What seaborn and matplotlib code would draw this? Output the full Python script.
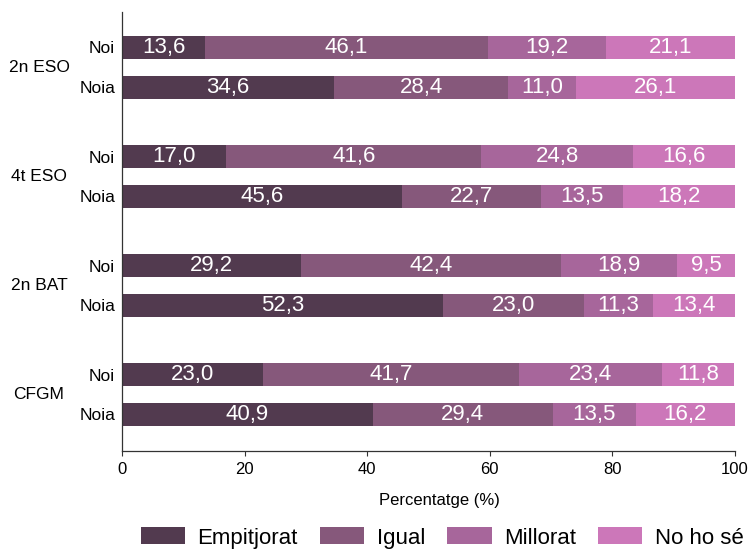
import numpy as np
import pandas as pd
import seaborn as sns
import matplotlib.pyplot as plt
from matplotlib.patches import Patch
from matplotlib.transforms import blended_transform_factory

# Survey answers by course and gender (percentages)
courses = ["2n ESO", "4t ESO", "2n BAT", "CFGM"]
genders = ["Noi", "Noia"]
categories = ["Empitjorat", "Igual", "Millorat", "No ho sé"]

empitjorat = [13.6, 34.6, 17.0, 45.6, 29.2, 52.3, 23.0, 40.9]
igual = [46.1, 28.4, 41.6, 22.7, 42.4, 23.0, 41.7, 29.4]
millorat = [19.2, 11.0, 24.8, 13.5, 18.9, 11.3, 23.4, 13.5]
no_ho_se = [21.1, 26.1, 16.6, 18.2, 9.5, 13.4, 11.8, 16.2]

x_ticks = [0, 20, 40, 60, 80, 100]
colors = ["#523A4F", "#86587B", "#A7669B", "#CC77B9"]

sns.set_theme(style="ticks")
plt.rcParams["font.family"] = ["Liberation Sans", "DejaVu Sans"]
for key in ["text.color", "axes.labelcolor", "xtick.color", "ytick.color"]:
    plt.rcParams[key] = "black"

# Row positions: two bars per course, extra gap between courses
group_step = 2.75
positions = [g * group_step + j for g in range(len(courses)) for j in range(len(genders))]

values = np.array([empitjorat, igual, millorat, no_ho_se])
right_edges = np.cumsum(values, axis=0)
left_edges = right_edges - values

df = pd.DataFrame({"pos": positions})
for k, cat in enumerate(categories):
    df[cat] = right_edges[k]

fig = plt.figure(figsize=(7.5, 5.5), dpi=100)
ax = fig.add_axes([0.1627, 0.18, 0.8173, 0.798])

# Stack by drawing cumulative totals from the outermost segment inward
for k in reversed(range(len(categories))):
    sns.barplot(data=df, x=categories[k], y="pos", orient="h", native_scale=True,
                width=0.58, color=colors[k], saturation=1, errorbar=None,
                linewidth=0, ax=ax)

# Value labels centred in each segment
for k in range(len(categories)):
    for i, p in enumerate(positions):
        v = values[k, i]
        ax.text(left_edges[k, i] + v / 2, p, f"{v:.1f}".replace(".", ","),
                ha="center", va="center", color="white", fontsize=16)

ax.set_xlim(0, 100)
ax.set_ylim(positions[-1] + 0.92, -0.89)
ax.set_xticks(x_ticks)
ax.set_xticklabels([str(t) for t in x_ticks], fontsize=12)
ax.set_yticks(positions)
ax.set_yticklabels(genders * len(courses), fontsize=12.5)
ax.tick_params(axis="y", length=0, pad=5)
ax.tick_params(axis="x", length=3.6, width=0.8, color="#333333", pad=4)
ax.set_xlabel("Percentatge (%)", fontsize=12)
ax.set_ylabel("")
ax.xaxis.set_label_coords((439.5 - 122) / 613, -0.095)
sns.despine(ax=ax)
for side in ["left", "bottom"]:
    ax.spines[side].set_color("#333333")
    ax.spines[side].set_linewidth(0.9)

# Course labels centred on each pair of bars
trans = blended_transform_factory(fig.transFigure, ax.transData)
for g, course in enumerate(courses):
    ax.text(39 / 750, g * group_step + 0.5, course, transform=trans,
            ha="center", va="center", fontsize=12.5)

handles = [Patch(facecolor=c, edgecolor="none") for c in colors]
fig.legend(handles, categories, loc="center", bbox_to_anchor=(442 / 750, 0.022),
           ncol=4, frameon=False, fontsize=16, handlelength=2.0, handleheight=0.8,
           handletextpad=0.55, columnspacing=1.0)

fig.savefig("out.png", dpi=100, facecolor="white")
